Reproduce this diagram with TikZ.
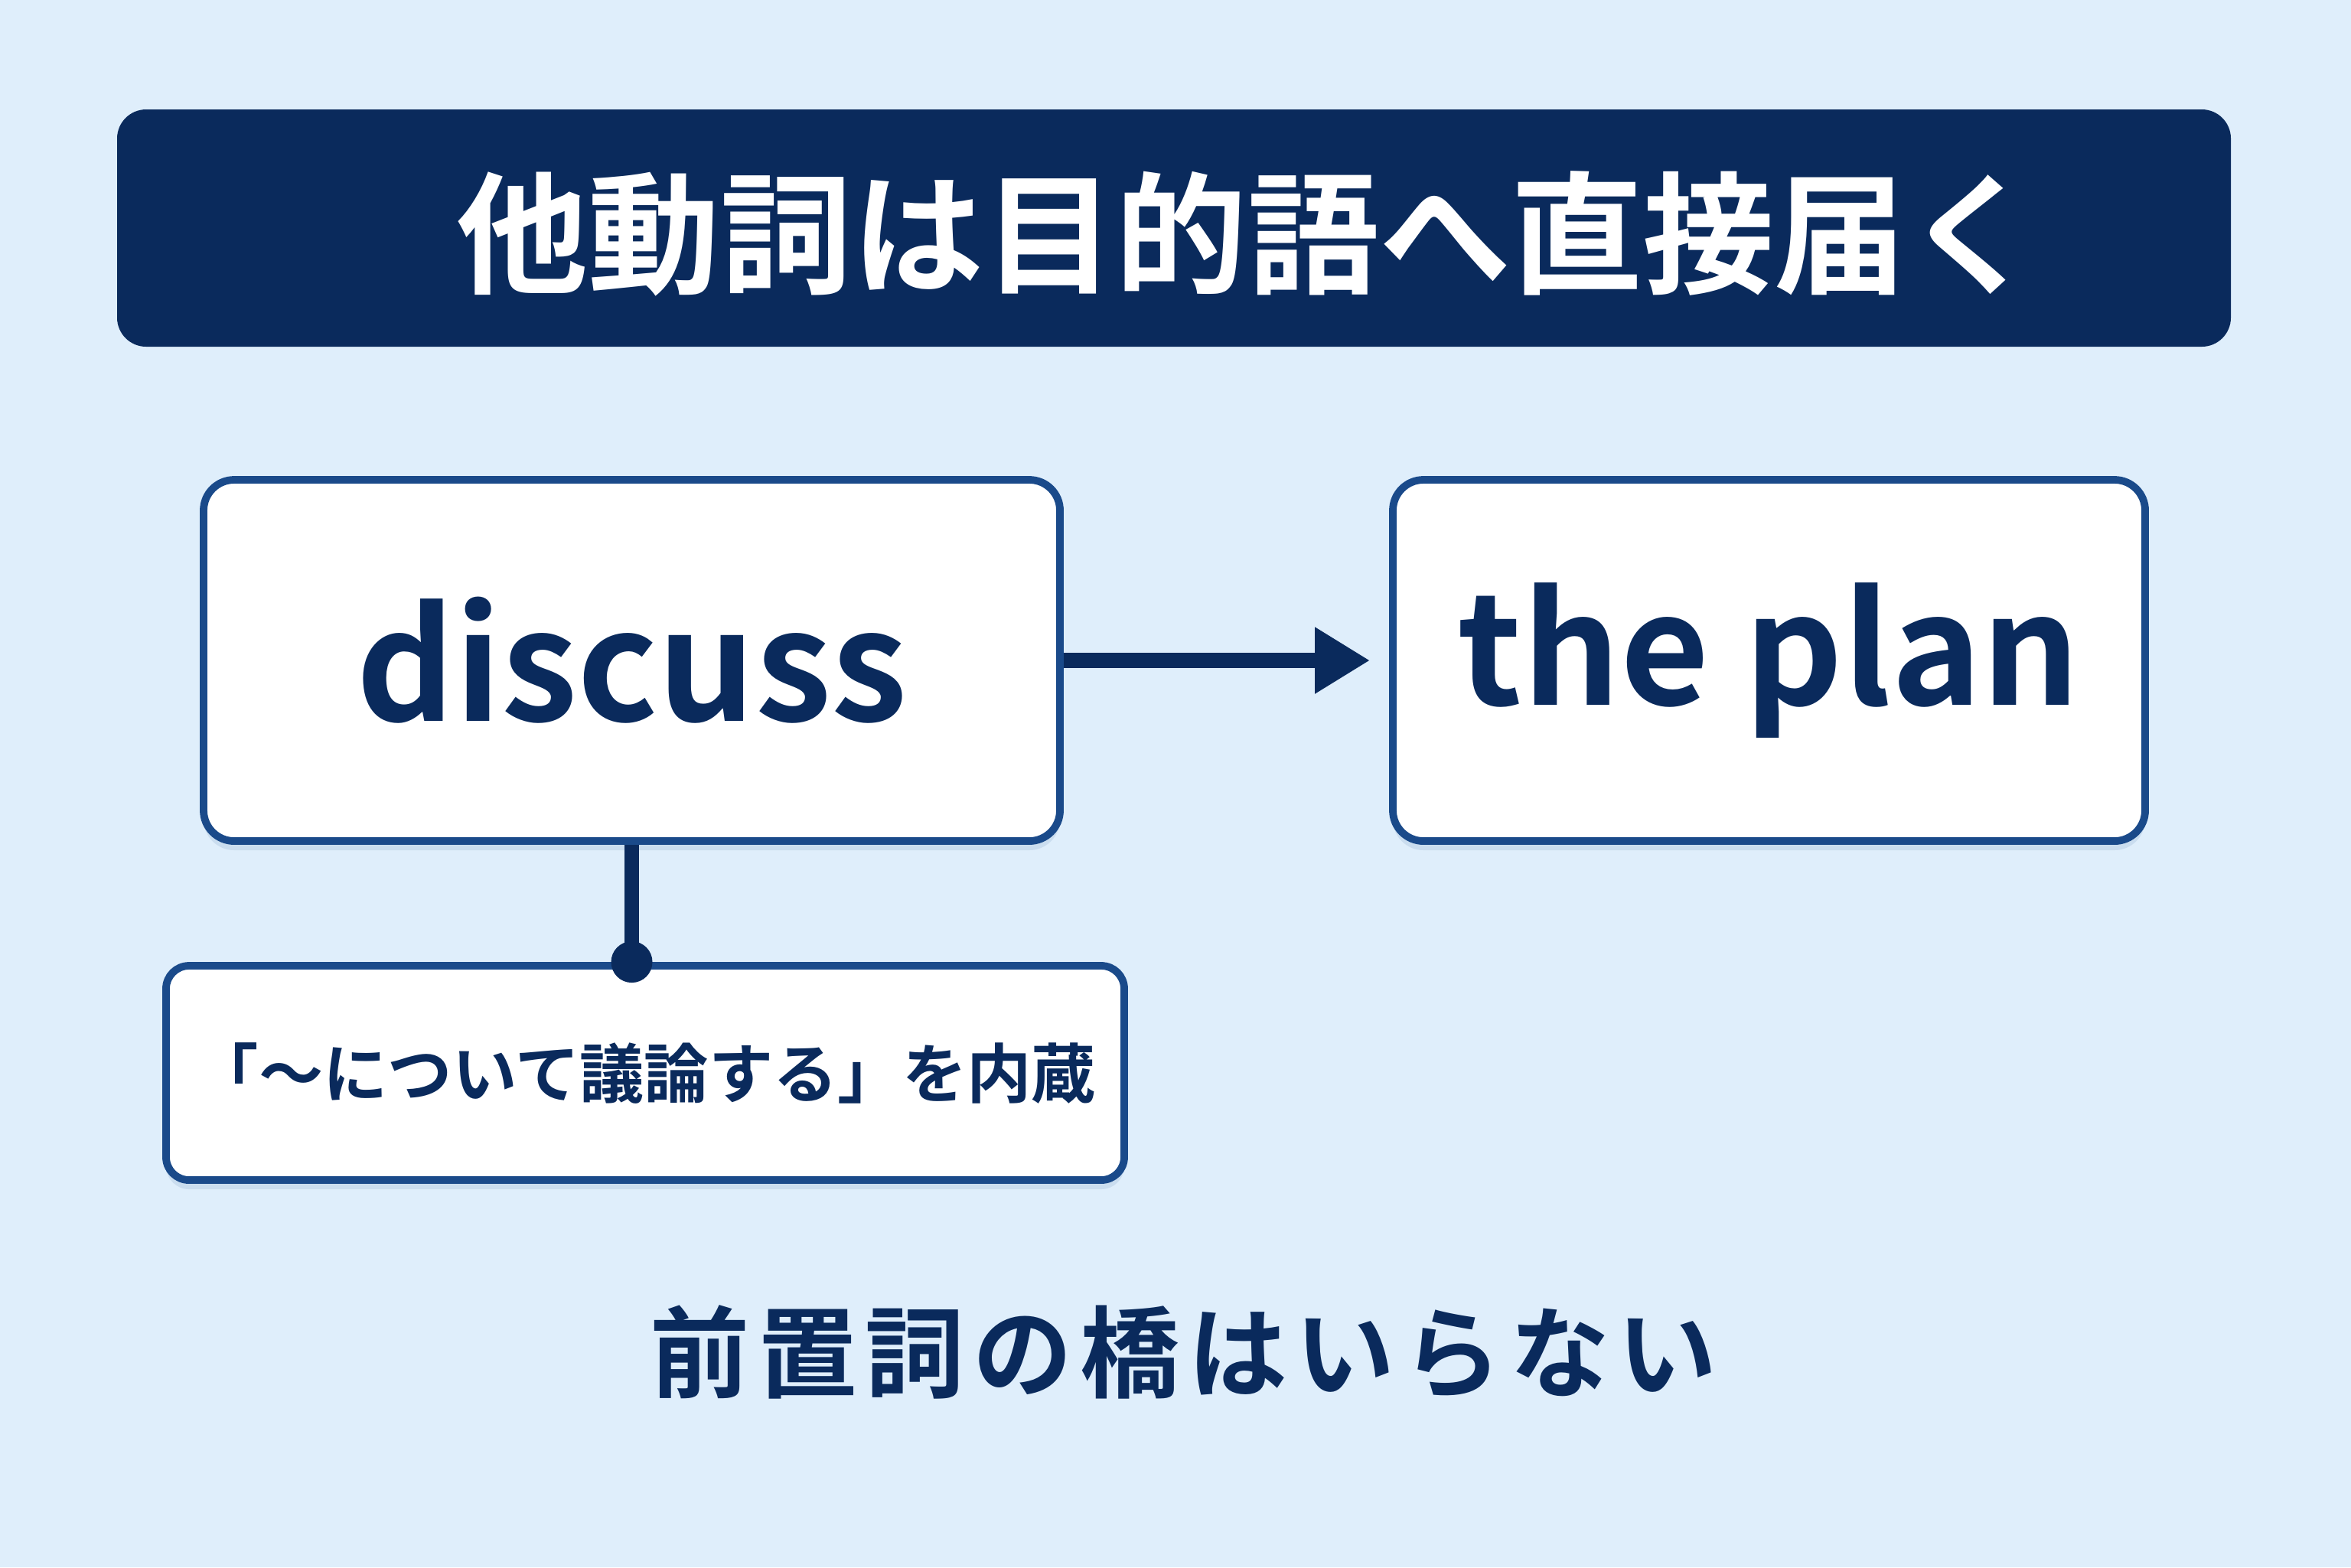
\documentclass[tikz,border=0pt]{standalone}
\usepackage{fontspec}
\setmainfont{Noto Sans CJK JP}[BoldFont={Noto Sans CJK JP Bold}]
\definecolor{pagebg}{HTML}{DFEEFB}
\definecolor{grammarnavy}{HTML}{0A2A5C}
\definecolor{boxblue}{HTML}{1A4A8A}
\usetikzlibrary{arrows.meta,positioning,shadows}
\tikzset{
    wordbox/.style={
        draw=boxblue,
        fill=white,
        rounded corners=0.4cm,
        line width=2.8pt,
        minimum height=4.72cm,
        align=center,
        text=grammarnavy,
        drop shadow={shadow xshift=0pt,shadow yshift=-0.12cm,opacity=0.10,fill=boxblue},
        font=\bfseries\fontsize{57}{64}\selectfont
    },
    notebox/.style={
        wordbox,
        rounded corners=0.3cm,
        minimum height=2.80cm,
        font=\bfseries\fontsize{24}{30}\selectfont
    },
    objectarrow/.style={
        -{Triangle[length=0.72cm,width=0.82cm]},
        draw=grammarnavy,
        line width=5.5pt
    },
    linkline/.style={
        draw=grammarnavy,
        line width=5.5pt
    }
}

\begin{document}
\begin{tikzpicture}
    \fill[pagebg] (0,0) rectangle (30.72,-20.48);
    \useasboundingbox (0,0) rectangle (30.72,-20.48);

    \node[fill=grammarnavy, rounded corners=0.38cm,
        minimum width=27.62cm, minimum height=3.10cm]
        (banner) at (15.34,-2.98) {};
    \node[text=white, font=\bfseries\fontsize{49}{56}\selectfont]
        (titleText) at (16.3,-3.05) {他動詞は目的語へ直接届く};

    \node[wordbox, minimum width=11.19cm] (discussBox) at (8.255,-8.63) {discuss};
    \node[wordbox, minimum width=9.83cm] (planBox) at (23.115,-8.63) {the plan};
    \node[notebox, minimum width=12.52cm] (meaningBox) at (8.43,-14.02)
        {「～について議論する」を内蔵};

    \draw[objectarrow, shorten >=0.25cm] (discussBox.east) -- (planBox.west);
    \draw[linkline] (discussBox.south) -- (discussBox.south |- meaningBox.north)
        coordinate (pin);
    \fill[grammarnavy] (pin) circle (0.27cm);

    \node[text=grammarnavy, font=\bfseries\fontsize{37}{44}\selectfont\addfontfeature{LetterSpace=8}]
        (bridgeNote) at (15.47,-17.67) {前置詞の橋はいらない};
\end{tikzpicture}
\end{document}
